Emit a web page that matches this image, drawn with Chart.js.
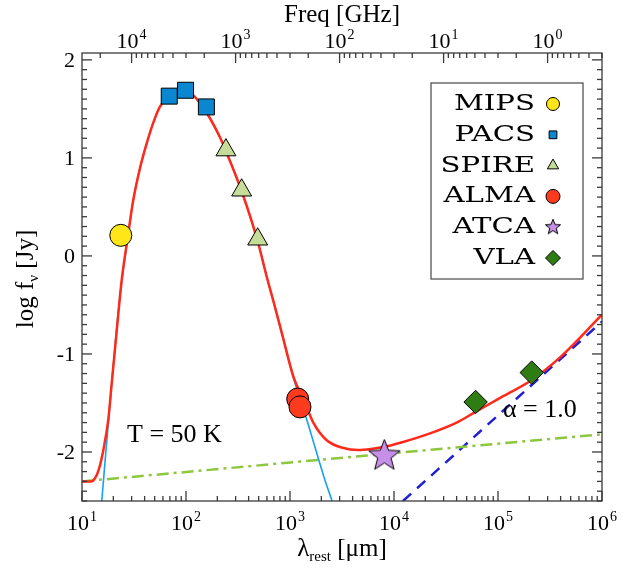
<!DOCTYPE html>
<html>
<head>
<meta charset="utf-8">
<script src="https://cdn.jsdelivr.net/npm/chart.js@4/dist/chart.umd.min.js"></script>
<style>
html, body { margin: 0; padding: 0; background: #fff; }
</style>
</head>
<body>
<canvas id="sedChart" width="640" height="570"></canvas>
<script>
// photometry: rest wavelength [micron], log flux [Jy]
const mipsLam = [23.6];
const mipsFlux = [0.21];
const pacsLam = [69, 99, 157];
const pacsFlux = [1.63, 1.69, 1.52];
const spireLam = [242, 343, 489];
const spireFlux = [1.08, 0.67, 0.17];
const almaLam = [1186, 1247];
const almaFlux = [-1.46, -1.54];
const atcaLam = [8070];
const atcaFlux = [-2.04];
const vlaLam = [60900, 211000];
const vlaFlux = [-1.49, -1.19];

// model curves
const totalLam = [10, 12.3, 13.3, 14.5, 15.9, 17.9, 19.3, 21.5, 24, 27.7, 31, 36, 42.5, 48.5, 56, 70, 90, 117, 160, 212, 242, 343, 489, 600, 700, 850, 1077, 1393, 1675, 2254, 3260, 4500, 6000, 7900, 12000, 22200, 40000, 60900, 100000, 211000, 400000, 1000000];
const totalFlux = [-2.30, -2.30, -2.27, -2.18, -2.0, -1.67, -1.30, -0.78, -0.26, 0.21, 0.56, 0.89, 1.17, 1.36, 1.52, 1.65, 1.70, 1.64, 1.45, 1.21, 1.07, 0.66, 0.15, -0.22, -0.48, -0.82, -1.23, -1.50, -1.70, -1.88, -1.96, -1.98, -1.97, -1.95, -1.90, -1.81, -1.70, -1.59, -1.46, -1.265, -1.03, -0.60];
const dustLam = [14.9, 15.5, 16.8, 18.2, 19.8, 22, 24, 27.7, 31, 36, 42.5, 48.5, 56, 70, 90, 117, 160, 212, 242, 343, 489, 600, 700, 850, 1077, 1393, 2173, 2572, 2700];
const dustFlux = [-2.75, -2.5, -2.05, -1.62, -1.17, -0.64, -0.28, 0.20, 0.56, 0.89, 1.17, 1.36, 1.52, 1.65, 1.70, 1.64, 1.45, 1.21, 1.07, 0.66, 0.15, -0.22, -0.48, -0.82, -1.24, -1.61, -2.29, -2.52, -2.60];
const plawLam = [10, 1000000];
const plawFlux = [-2.30, -1.82];
const radioLam = [12200, 1000000];
const radioFlux = [-2.5, -0.67];

// axes
const lamTicks = [10, 100, 1000, 10000, 100000, 1000000];
const lamExp = ['1', '2', '3', '4', '5', '6'];
const freqTicks = [10000, 1000, 100, 10, 1];
const freqExp = ['4', '3', '2', '1', '0'];
const yTicks = [-2, -1, 0, 1, 2];
const legendNames = ['MIPS', 'PACS', 'SPIRE', 'ALMA', 'ATCA', 'VLA'];

const C_UM_GHZ = 299792.458; // lambda[um] * nu[GHz]
const SERIF = '"Liberation Serif", "Times New Roman", serif';

function pts(xs, ys) {
    return xs.map((v, i) => ({ x: v, y: ys[i] }));
}

function makeStar(R, r, fill) {
    const s = Math.ceil(R * 2 + 4);
    const c = document.createElement('canvas');
    c.width = s; c.height = s;
    const g = c.getContext('2d');
    g.beginPath();
    for (let i = 0; i < 10; i++) {
        const rad = i % 2 ? r : R;
        const ang = -Math.PI / 2 + i * Math.PI / 5;
        g.lineTo(s / 2 + rad * Math.cos(ang), s / 2 + rad * Math.sin(ang));
    }
    g.closePath();
    g.fillStyle = fill;
    g.fill();
    g.strokeStyle = '#000';
    g.lineWidth = 1;
    g.stroke();
    return c;
}

const starBig = makeStar(16.5, 7, '#c68fe8');
const starSmall = makeStar(8, 3.4, '#c68fe8');

const markers = [
    { style: 'circle', color: '#ffe619', r: 11, lr: 6.5 },
    { style: 'rect', color: '#0a87d0', r: 11.3, lr: 5.5 },
    { style: 'triangle', color: '#c5dd98', r: 11.5, lr: 6.5 },
    { style: 'circle', color: '#ff3b1f', r: 11, lr: 7 },
    { style: starBig, color: '#c68fe8', r: 16, lr: 8, small: starSmall },
    { style: 'rectRot', color: '#2f7d12', r: 11.7, lr: 7.5 }
];

function markerSet(i, lam, flux) {
    const m = markers[i];
    return {
        label: legendNames[i],
        data: pts(lam, flux),
        showLine: false,
        pointStyle: m.style,
        pointRadius: m.r,
        pointHoverRadius: m.r,
        pointBackgroundColor: m.color,
        pointBorderColor: '#000',
        pointBorderWidth: 1
    };
}

function curve(lam, flux, color, width, dash) {
    return {
        data: pts(lam, flux),
        showLine: true,
        borderColor: color,
        borderWidth: width,
        borderDash: dash || [],
        pointRadius: 0,
        cubicInterpolationMode: 'monotone'
    };
}

function drawPow(ctx, exp, cx, baseY) {
    ctx.textAlign = 'left';
    ctx.textBaseline = 'alphabetic';
    ctx.font = '22px ' + SERIF;
    const w1 = ctx.measureText('10').width;
    ctx.font = '14px ' + SERIF;
    const w2 = ctx.measureText(exp).width;
    const x0 = cx - (w1 + w2 + 1) / 2;
    ctx.font = '22px ' + SERIF;
    ctx.fillText('10', x0, baseY);
    ctx.font = '14px ' + SERIF;
    ctx.fillText(exp, x0 + w1 + 1, baseY - 9);
}

const framePlugin = {
    id: 'sedFrame',
    afterDatasetsDraw(chart) {
        const { ctx, chartArea: a, scales: { x, y } } = chart;
        ctx.save();
        ctx.strokeStyle = '#3a3a3a';
        ctx.lineWidth = 1.3;
        ctx.strokeRect(a.left, a.top, a.right - a.left, a.bottom - a.top);

        const tick = (x1, y1, x2, y2) => {
            ctx.beginPath(); ctx.moveTo(x1, y1); ctx.lineTo(x2, y2); ctx.stroke();
        };

        // y ticks, every 0.1
        for (let i = -25; i <= 20; i++) {
            const py = y.getPixelForValue(i / 10);
            const len = i % 10 === 0 ? 10 : 5;
            tick(a.left, py, a.left + len, py);
            tick(a.right, py, a.right - len, py);
        }
        // bottom ticks (wavelength)
        lamTicks.forEach((t, i) => {
            const px = x.getPixelForValue(t);
            tick(px, a.bottom, px, a.bottom - 10);
            if (i < lamTicks.length - 1) {
                for (let k = 2; k <= 9; k++) {
                    const mx = x.getPixelForValue(t * k);
                    tick(mx, a.bottom, mx, a.bottom - 5);
                }
            }
        });
        // top ticks (frequency)
        const inRange = lam => lam >= 10 && lam <= 1000000;
        [100000].concat(freqTicks).forEach(nu => {
            const lam = C_UM_GHZ / nu;
            if (inRange(lam)) {
                const px = x.getPixelForValue(lam);
                tick(px, a.top, px, a.top + 10);
            }
            for (let k = 2; k <= 9; k++) {
                const ml = C_UM_GHZ / (nu * k / 10);
                if (inRange(ml) && nu * k / 10 >= 0.1) {
                    const mx = x.getPixelForValue(ml);
                    tick(mx, a.top, mx, a.top + 5);
                }
            }
        });

        // tick labels
        ctx.fillStyle = '#000';
        ctx.font = '22px ' + SERIF;
        ctx.textAlign = 'right';
        ctx.textBaseline = 'middle';
        yTicks.forEach(v => {
            ctx.fillText(String(v), a.left - 7, y.getPixelForValue(v) + 1);
        });
        lamTicks.forEach((t, i) => drawPow(ctx, lamExp[i], x.getPixelForValue(t), a.bottom + 29));
        freqTicks.forEach((nu, i) => drawPow(ctx, freqExp[i], x.getPixelForValue(C_UM_GHZ / nu), a.top - 5));

        // axis titles
        ctx.textBaseline = 'alphabetic';
        ctx.textAlign = 'center';
        ctx.font = '25px ' + SERIF;
        ctx.fillText('Freq [GHz]', (a.left + a.right) / 2, 22);

        // bottom title: lambda_rest [um]
        const cx = (a.left + a.right) / 2;
        ctx.textAlign = 'left';
        ctx.font = '25px ' + SERIF;
        const wl = ctx.measureText('\u03bb').width;
        const wu = ctx.measureText(' [\u03bcm]').width;
        ctx.font = '15px ' + SERIF;
        const wr = ctx.measureText('rest').width;
        let bx = cx - (wl + wr + wu) / 2;
        const by = 556;
        ctx.font = '25px ' + SERIF;
        ctx.fillText('\u03bb', bx, by);
        ctx.font = '15px ' + SERIF;
        ctx.fillText('rest', bx + wl, by + 5);
        ctx.font = '25px ' + SERIF;
        ctx.fillText(' [\u03bcm]', bx + wl + wr, by);

        // left title: log f_nu [Jy]
        ctx.save();
        ctx.translate(33, (a.top + a.bottom) / 2 + 2);
        ctx.rotate(-Math.PI / 2);
        ctx.font = '25px ' + SERIF;
        const w1 = ctx.measureText('log f').width;
        const w3 = ctx.measureText(' [Jy]').width;
        ctx.font = '15px ' + SERIF;
        const w2 = ctx.measureText('\u03bd').width;
        let lx = -(w1 + w2 + w3) / 2;
        ctx.font = '25px ' + SERIF;
        ctx.fillText('log f', lx, 0);
        ctx.font = '15px ' + SERIF;
        ctx.fillText('\u03bd', lx + w1, 5);
        ctx.font = '25px ' + SERIF;
        ctx.fillText(' [Jy]', lx + w1 + w2, 0);
        ctx.restore();

        // annotations
        ctx.font = '26px ' + SERIF;
        ctx.fillText('T = 50 K', 127, 442);
        ctx.fillText('\u03b1 = 1.0', 503, 417);

        // legend
        const lx0 = a.right - 171, ly0 = a.top + 30;
        ctx.fillStyle = '#fff';
        ctx.fillRect(lx0, ly0, 152, 196);
        ctx.strokeStyle = '#555';
        ctx.lineWidth = 1.3;
        ctx.strokeRect(lx0, ly0, 152, 196);
        legendNames.forEach((name, i) => {
            const base = ly0 + 27 + i * 30.8;
            ctx.save();
            ctx.translate(lx0 + 104, base);
            ctx.scale(1.27, 1);
            ctx.fillStyle = '#000';
            ctx.font = '23px "DejaVu Serif", serif';
            ctx.textAlign = 'right';
            ctx.fillText(name, 0, 0);
            ctx.restore();
            const m = markers[i];
            ctx.fillStyle = m.color;
            ctx.strokeStyle = '#000';
            ctx.lineWidth = 1;
            Chart.helpers.drawPoint(ctx, {
                pointStyle: m.small || m.style,
                radius: m.lr,
                rotation: 0,
                borderWidth: 1
            }, lx0 + 122, base - 6);
        });
        ctx.restore();
    }
};

const ctx = document.getElementById('sedChart').getContext('2d');
new Chart(ctx, {
    type: 'scatter',
    data: {
        datasets: [
            markerSet(0, mipsLam, mipsFlux),
            markerSet(1, pacsLam, pacsFlux),
            markerSet(2, spireLam, spireFlux),
            markerSet(3, almaLam, almaFlux),
            markerSet(4, atcaLam, atcaFlux),
            markerSet(5, vlaLam, vlaFlux),
            curve(totalLam, totalFlux, '#ff2a1a', 2.5),
            curve(dustLam, dustFlux, '#1aa0f0', 1.6),
            curve(plawLam, plawFlux, '#8dc63f', 2.5, [12, 5, 3, 5]),
            curve(radioLam, radioFlux, '#1f1fd6', 2.5, [11, 8])
        ]
    },
    options: {
        responsive: false,
        animation: false,
        layout: { padding: { left: 82, right: 38, top: 53, bottom: 69 } },
        scales: {
            x: { type: 'logarithmic', min: 10, max: 1000000, display: false },
            y: { type: 'linear', min: -2.5, max: 2.07, display: false }
        },
        plugins: {
            legend: { display: false },
            tooltip: { enabled: false }
        }
    },
    plugins: [framePlugin]
});
</script>
</body>
</html>
